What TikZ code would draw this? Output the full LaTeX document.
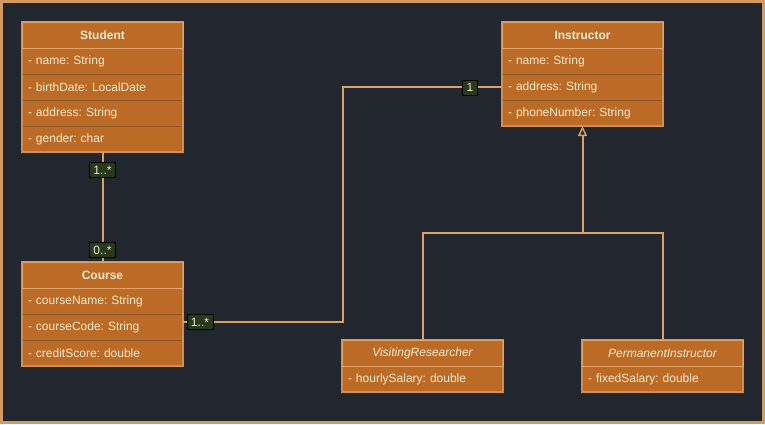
\documentclass[tikz,border=0pt]{standalone}
\usepackage{fontspec}
\setmainfont{Liberation Sans}
\usetikzlibrary{arrows.meta}
\definecolor{bgc}{HTML}{22262E}
\definecolor{framec}{HTML}{D39B60}
\definecolor{boxfill}{HTML}{BC6B26}
\definecolor{boxline}{HTML}{D48F50}
\definecolor{hdrline}{HTML}{E2A468}
\definecolor{sepline}{HTML}{8C5A2E}
\definecolor{txtc}{HTML}{F8EAD0}
\definecolor{connc}{HTML}{D9A066}
\definecolor{lblfill}{HTML}{283A1C}
\frenchspacing
\tikzset{
  hdr/.style={anchor=north west, fill=boxfill, draw=hdrline, line width=1pt, outer sep=0pt, minimum width=161pt, minimum height=26pt, inner sep=0pt, text=txtc, font=\fontsize{12}{14}\selectfont\bfseries},
  ihdr/.style={hdr, font=\fontsize{12}{14}\selectfont\itshape},
  row/.style={anchor=north west, fill=boxfill, draw=sepline, line width=0.8pt, outer sep=0pt, text width=149pt, inner xsep=6pt, inner ysep=0pt, minimum height=26pt, align=left, text=txtc, font=\fontsize{12}{14}\selectfont\frenchspacing},
  outline/.style={draw=boxline, line width=1.2pt},
  conn/.style={draw=connc, line width=2pt},
  mult/.style={fill=lblfill, draw=black, line width=0.8pt, text=txtc, inner xsep=4pt, inner ysep=1.5pt, minimum height=15pt, font=\fontsize{12}{13}\selectfont}
}
\begin{document}
\begin{tikzpicture}[x=1pt,y=-1pt]
\fill[bgc] (0,0) rectangle (765,424);
\useasboundingbox (0,0) rectangle (765,424);
\draw[framec, line width=3pt] (1.5,1.5) rectangle (763.5,422.5);

% Student
\node[row] (student1) at (22,48) {- name: String};
\node[row] (student2) at (22,74) {- birthDate: LocalDate};
\node[row] (student3) at (22,100) {- address: String};
\node[row] (student4) at (22,126) {- gender: char};
\node[hdr] (student) at (22,22) {Student};
\draw[outline] (student.north west) rectangle (student4.south east);
\draw[hdrline, line width=1pt] (student.north west) rectangle (student.south east);

% Course
\node[row] (course1) at (22,288) {- courseName: String};
\node[row] (course2) at (22,314) {- courseCode: String};
\node[row] (course3) at (22,340) {- creditScore: double};
\node[hdr] (course) at (22,262) {Course};
\draw[outline] (course.north west) rectangle (course3.south east);
\draw[hdrline, line width=1pt] (course.north west) rectangle (course.south east);

% Instructor
\node[row] (instr1) at (502,48) {- name: String};
\node[row] (instr2) at (502,74) {- address: String};
\node[row] (instr3) at (502,100) {- phoneNumber: String};
\node[hdr] (instr) at (502,22) {Instructor};
\draw[outline] (instr.north west) rectangle (instr3.south east);
\draw[hdrline, line width=1pt] (instr.north west) rectangle (instr.south east);

% VisitingResearcher
\node[row] (vr1) at (342,366) {- hourlySalary: double};
\node[ihdr] (vr) at (342,340) {VisitingResearcher};
\draw[outline] (vr.north west) rectangle (vr1.south east);
\draw[hdrline, line width=1pt] (vr.north west) rectangle (vr.south east);

% PermanentInstructor
\node[row] (pi1) at (582,366) {- fixedSalary: double};
\node[ihdr] (pi) at (582,340) {PermanentInstructor};
\draw[outline] (pi.north west) rectangle (pi1.south east);
\draw[hdrline, line width=1pt] (pi.north west) rectangle (pi.south east);

% Student -- Course
\draw[conn] (student4.south) -- (course.north);
\node[mult] (m1) at (102.5,170) {1..*};
\node[mult] (m2) at (102.5,250) {0..*};

% Course -- Instructor
\coordinate (cc) at ([yshift=5pt]course2.east);
\draw[conn] (cc) -- ++(160,0) |- (instr2.west);
\node[mult] (m3) at (200,322) {1..*};
\node[mult] (m4) at (470,87.5) {1};

% Inheritance
\coordinate (j) at (582.5,233);
\draw[conn] (vr.north) |- (j) -| (pi.north);
\draw[conn, -{Triangle[open, length=10pt, width=9pt, line width=1.5pt]}] (j) -- (instr3.south);
\end{tikzpicture}
\end{document}
